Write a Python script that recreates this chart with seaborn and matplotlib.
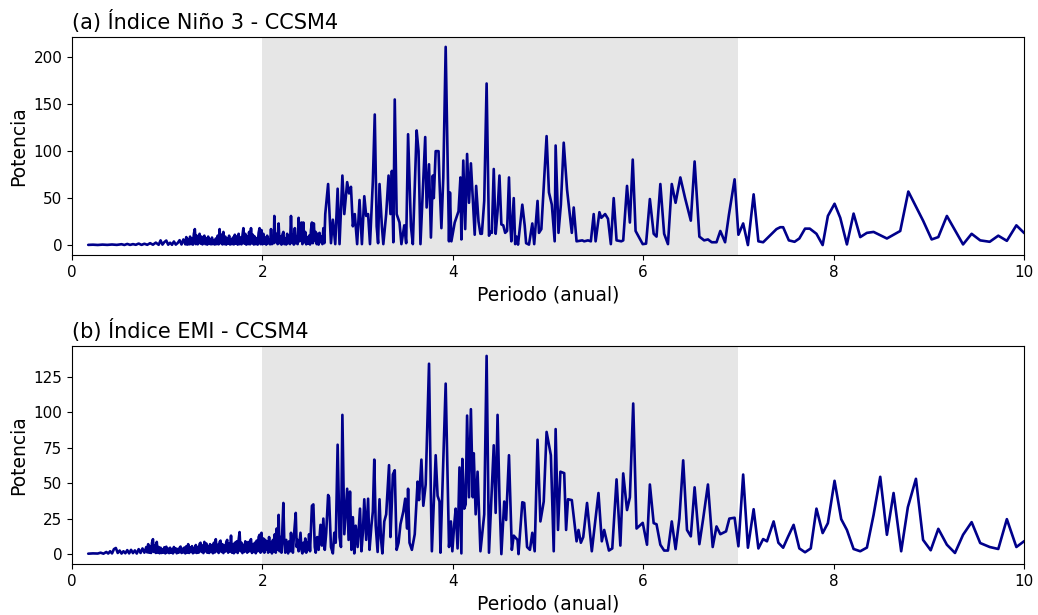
import matplotlib
matplotlib.use("Agg")
import matplotlib.pyplot as plt
import numpy as np
import pandas as pd
import seaborn as sns

# (a) Nino 3: banda densa de periodos cortos
nino3_bajo = [
    (0.17, 0.2), (0.22, 0.4), (0.27, 0.1), (0.32, 0.5), (0.37, 0.2), (0.42, 0.6),
    (0.47, 0.2), (0.52, 0.9), (0.55, 0.1), (0.58, 1.2), (0.61, 0.2), (0.64, 1.0),
    (0.67, 0.3), (0.70, 1.6), (0.73, 0.2), (0.76, 1.4), (0.79, 0.3), (0.82, 2.0),
    (0.85, 0.4), (0.88, 2.6), (0.91, 0.3), (0.93, 5.0), (0.95, 0.5), (0.97, 3.2),
    (0.99, 4.8), (1.01, 0.4), (1.03, 2.5), (1.05, 0.3), (1.07, 3.8), (1.09, 0.5),
    (1.11, 2.2), (1.13, 5.2), (1.15, 0.6), (1.17, 6.0), (1.19, 0.8),
    (1.20, 8.5), (1.21, 0.5), (1.22, 6), (1.23, 0.8), (1.24, 9), (1.25, 1),
    (1.26, 7), (1.27, 0.5), (1.28, 12), (1.29, 17), (1.30, 1), (1.31, 10),
    (1.32, 0.8), (1.33, 8), (1.34, 12), (1.35, 1.5), (1.36, 9), (1.37, 0.7),
    (1.38, 6), (1.39, 10), (1.40, 1), (1.41, 7), (1.42, 0.5), (1.43, 9),
    (1.44, 1.2), (1.45, 6), (1.46, 0.8), (1.47, 8), (1.48, 1), (1.49, 5),
    (1.50, 0.6), (1.51, 7), (1.52, 1), (1.53, 10), (1.54, 0.8), (1.55, 17),
    (1.56, 2), (1.57, 11), (1.58, 0.7), (1.59, 14), (1.60, 1), (1.61, 9),
    (1.62, 0.5), (1.63, 7), (1.64, 1.4), (1.65, 10), (1.66, 0.6), (1.67, 6),
    (1.68, 1), (1.69, 8), (1.70, 0.7), (1.71, 11), (1.72, 1.5), (1.73, 9),
    (1.74, 0.5), (1.75, 12), (1.76, 1), (1.77, 8), (1.78, 0.8), (1.79, 10),
    (1.80, 18), (1.81, 1.5), (1.82, 12), (1.83, 0.5), (1.84, 9), (1.85, 1),
    (1.86, 14), (1.87, 0.8), (1.88, 18), (1.89, 2), (1.90, 11), (1.91, 0.6),
    (1.92, 9), (1.93, 1), (1.94, 7), (1.95, 0.5), (1.96, 13), (1.97, 18),
    (1.98, 1), (1.99, 16),
]

# (a) Nino 3: periodos de 2 a 10 anios
nino3_alto = [
    (2.00, 0.8), (2.01, 12), (2.02, 1.5), (2.03, 8), (2.04, 0.5), (2.05, 10),
    (2.06, 2), (2.07, 6), (2.08, 0.8), (2.09, 17), (2.10, 1), (2.11, 9),
    (2.12, 2), (2.125, 31), (2.135, 3), (2.15, 12), (2.16, 1), (2.17, 23),
    (2.18, 2), (2.19, 9), (2.20, 0.5), (2.21, 11), (2.22, 14), (2.23, 1),
    (2.24, 7), (2.25, 0.6), (2.26, 12), (2.27, 2), (2.28, 8), (2.29, 1),
    (2.30, 31), (2.31, 3), (2.32, 11), (2.33, 0.5), (2.34, 18), (2.35, 2),
    (2.36, 9), (2.37, 1), (2.38, 29), (2.39, 4), (2.40, 12), (2.41, 24),
    (2.42, 1), (2.43, 24), (2.44, 3), (2.45, 14), (2.46, 0.8), (2.47, 8),
    (2.48, 1.5), (2.49, 10), (2.50, 0.6), (2.51, 16), (2.52, 24), (2.53, 2),
    (2.54, 23), (2.55, 5), (2.56, 14), (2.57, 1), (2.58, 12), (2.59, 0.5),
    (2.60, 13), (2.61, 3), (2.62, 9), (2.63, 1), (2.64, 18), (2.65, 2),
    (2.66, 33), (2.69, 65), (2.72, 2), (2.74, 27), (2.765, 1), (2.79, 60),
    (2.81, 1), (2.84, 74), (2.86, 33), (2.89, 67), (2.91, 55), (2.93, 62),
    (2.95, 20), (2.97, 33), (2.995, 1), (3.02, 48), (3.045, 1), (3.07, 52),
    (3.09, 31), (3.11, 33), (3.13, 1), (3.16, 68), (3.18, 139), (3.20, 20),
    (3.215, 2), (3.23, 65), (3.255, 20), (3.27, 1), (3.30, 33), (3.325, 74),
    (3.345, 33), (3.36, 79), (3.375, 3), (3.39, 155), (3.41, 33), (3.44, 24),
    (3.46, 1), (3.49, 21), (3.51, 2), (3.53, 118), (3.56, 20), (3.58, 1),
    (3.62, 122), (3.64, 100), (3.66, 1), (3.68, 47), (3.71, 115), (3.725, 40),
    (3.74, 68), (3.75, 86), (3.77, 8), (3.79, 74), (3.80, 50), (3.82, 100),
    (3.85, 100), (3.86, 68), (3.88, 18), (3.90, 72), (3.925, 211), (3.96, 4),
    (3.97, 56), (3.985, 4), (4.02, 24), (4.06, 36), (4.08, 72), (4.09, 6),
    (4.11, 90), (4.13, 17), (4.15, 97), (4.17, 45), (4.19, 87), (4.21, 50),
    (4.23, 11), (4.245, 63), (4.27, 25), (4.29, 12), (4.305, 12), (4.33, 47),
    (4.355, 172), (4.38, 10), (4.395, 14), (4.41, 13), (4.43, 81), (4.45, 12),
    (4.47, 36), (4.49, 74), (4.51, 22), (4.53, 21), (4.55, 13), (4.57, 15),
    (4.59, 72), (4.605, 20), (4.615, 4), (4.64, 50), (4.655, 1), (4.67, 9),
    (4.685, 0.5), (4.73, 43), (4.755, 21), (4.77, 2), (4.80, 0.5), (4.835, 23),
    (4.855, 1), (4.89, 47), (4.905, 13), (4.93, 17), (4.985, 116), (5.01, 56),
    (5.04, 43), (5.07, 4), (5.08, 106), (5.11, 13), (5.135, 43), (5.165, 109),
    (5.20, 59), (5.25, 13), (5.27, 40), (5.30, 4), (5.36, 5), (5.38, 4),
    (5.42, 5), (5.45, 4), (5.48, 33), (5.50, 4), (5.54, 35), (5.56, 29),
    (5.60, 33), (5.63, 28), (5.66, 1), (5.69, 50), (5.72, 5), (5.77, 4),
    (5.79, 5), (5.83, 63), (5.86, 24), (5.89, 91), (5.92, 15), (5.995, 1),
    (6.03, 1.5), (6.07, 49), (6.11, 12), (6.14, 9), (6.18, 65), (6.22, 12),
    (6.26, 1), (6.30, 65), (6.34, 45), (6.39, 72), (6.44, 50), (6.50, 26),
    (6.54, 89), (6.59, 9), (6.64, 5), (6.68, 6), (6.72, 3), (6.77, 3),
    (6.81, 15), (6.86, 3), (6.90, 32), (6.96, 70), (7.00, 11), (7.05, 23),
    (7.10, 0), (7.16, 54), (7.21, 4), (7.26, 3), (7.33, 10), (7.40, 17),
    (7.44, 19), (7.47, 19), (7.53, 5), (7.59, 3.5), (7.64, 7), (7.70, 17.5),
    (7.75, 17.5), (7.82, 12), (7.885, 0), (7.94, 31), (8.01, 44), (8.07, 29),
    (8.14, 0.7), (8.21, 33.5), (8.28, 8.5), (8.35, 13), (8.42, 14), (8.56, 7),
    (8.70, 15), (8.785, 57), (8.94, 26), (9.03, 6), (9.10, 8.5), (9.19, 31),
    (9.28, 15), (9.36, 0.7), (9.45, 12), (9.54, 5), (9.64, 3.5), (9.73, 10),
    (9.82, 4.5), (9.92, 21), (10.0, 13), (10.08, 8),
]

# (b) EMI: banda densa de periodos cortos
emi_bajo = [
    (0.17, 0.3), (0.22, 0.5), (0.27, 0.4), (0.30, 1.0), (0.33, 0.3), (0.36, 1.5),
    (0.38, 0.4), (0.40, 2.0), (0.42, 0.5), (0.44, 3.5), (0.46, 4.3), (0.48, 0.8),
    (0.50, 2.5), (0.52, 0.4), (0.54, 2.0), (0.56, 0.6), (0.58, 2.8), (0.60, 0.5),
    (0.62, 3.0), (0.64, 0.7), (0.66, 2.6), (0.68, 0.4), (0.70, 3.5), (0.72, 0.8),
    (0.74, 4.0), (0.76, 1.0), (0.78, 5.0), (0.79, 1.2), (0.80, 7.0), (0.81, 1.0),
    (0.82, 5.5), (0.83, 0.8), (0.84, 8.0), (0.85, 10.5), (0.86, 1.5), (0.87, 6.0),
    (0.88, 0.8), (0.89, 8.6), (0.90, 1.0), (0.91, 5.0), (0.92, 0.6), (0.93, 4.5),
    (0.94, 0.8), (0.95, 3.5), (0.96, 1.0), (0.97, 4.8), (0.98, 0.5), (0.99, 5.2),
    (1.00, 1.2), (1.01, 3.8), (1.02, 0.7), (1.03, 4.5), (1.04, 1.0), (1.05, 3.2),
    (1.06, 0.5), (1.07, 5.0), (1.08, 1.5), (1.09, 4.0), (1.10, 0.6), (1.11, 3.6),
    (1.12, 1.0), (1.13, 4.4), (1.14, 5.3), (1.15, 0.8), (1.16, 3.8), (1.17, 1.2),
    (1.18, 4.6), (1.19, 0.5), (1.20, 5.5), (1.21, 1.0), (1.22, 7.0), (1.23, 0.8),
    (1.24, 4.8), (1.25, 1.5), (1.26, 5.6), (1.27, 0.6), (1.28, 4.2), (1.29, 1.2),
    (1.30, 6.4), (1.31, 0.8), (1.32, 5.0), (1.33, 1.0), (1.34, 7.2), (1.35, 8.0),
    (1.36, 1.5), (1.37, 6.0), (1.38, 0.7), (1.39, 8.6), (1.40, 2.0), (1.41, 7.5),
    (1.42, 1.0), (1.43, 5.5), (1.44, 0.8), (1.45, 7.0), (1.46, 1.5), (1.47, 6.2),
    (1.48, 0.6), (1.49, 8.0), (1.50, 1.2), (1.51, 10.5), (1.52, 2.0), (1.53, 6.5),
    (1.54, 0.8), (1.55, 8.5), (1.56, 9.5), (1.57, 1.5), (1.58, 7.0), (1.59, 0.7),
    (1.60, 6.0), (1.61, 1.8), (1.62, 8.5), (1.63, 10.0), (1.64, 1.0), (1.65, 7.5),
    (1.66, 2.0), (1.67, 13.0), (1.68, 1.0), (1.69, 6.5), (1.70, 0.6), (1.71, 8.0),
    (1.72, 1.5), (1.73, 9.0), (1.74, 0.8), (1.75, 10.0), (1.76, 15.5), (1.77, 2.0),
    (1.78, 8.0), (1.79, 0.7), (1.80, 6.5), (1.81, 1.5), (1.82, 9.0), (1.83, 7.0),
    (1.84, 1.0), (1.85, 8.5), (1.86, 2.0), (1.87, 9.0), (1.88, 10.5), (1.89, 0.8),
    (1.90, 7.0), (1.91, 1.5), (1.92, 8.0), (1.93, 0.6), (1.94, 9.5), (1.95, 2.0),
    (1.96, 12.0), (1.97, 13.6), (1.98, 1.0), (1.99, 15.0),
]

# (b) EMI: periodos de 2 a 10 anios
emi_alto = [
    (2.00, 2), (2.01, 11), (2.02, 1), (2.03, 10), (2.04, 3), (2.05, 9),
    (2.06, 1), (2.07, 12), (2.08, 2), (2.09, 8), (2.10, 0.5), (2.11, 10),
    (2.12, 2), (2.13, 14), (2.14, 1), (2.15, 18), (2.16, 3), (2.17, 27.6),
    (2.18, 2), (2.19, 12), (2.20, 1), (2.22, 36), (2.23, 8), (2.24, 1),
    (2.25, 10), (2.27, 0.5), (2.28, 9), (2.29, 2), (2.30, 15), (2.31, 6),
    (2.32, 1), (2.33, 12), (2.35, 29), (2.36, 5), (2.37, 10), (2.38, 2),
    (2.40, 15), (2.41, 3), (2.42, 0.5), (2.43, 8), (2.44, 2), (2.45, 11),
    (2.46, 1), (2.47, 8), (2.48, 3), (2.49, 14), (2.50, 2), (2.52, 34),
    (2.535, 35), (2.55, 5), (2.56, 1), (2.575, 12), (2.59, 3), (2.61, 20.6),
    (2.625, 6), (2.64, 25), (2.655, 3), (2.67, 15), (2.69, 41.6), (2.70, 40),
    (2.72, 5), (2.74, 0.5), (2.755, 15), (2.77, 8), (2.79, 77), (2.81, 12),
    (2.825, 5), (2.84, 98), (2.86, 14), (2.875, 30), (2.89, 46), (2.905, 10),
    (2.92, 44), (2.935, 3), (2.95, 26), (2.965, 0.5), (2.98, 20), (3.00, 5),
    (3.025, 32), (3.04, 2), (3.055, 15), (3.07, 38.6), (3.09, 10), (3.11, 39),
    (3.125, 3), (3.145, 20), (3.16, 30), (3.175, 66.5), (3.19, 20), (3.21, 1.5),
    (3.23, 38.6), (3.245, 11), (3.26, 0.5), (3.28, 23), (3.30, 28), (3.33, 62.6),
    (3.345, 12), (3.36, 37), (3.37, 56), (3.39, 59), (3.41, 3), (3.43, 8),
    (3.45, 21), (3.48, 30), (3.50, 39), (3.52, 18), (3.53, 46), (3.545, 8),
    (3.57, 3), (3.60, 14), (3.63, 51), (3.645, 38), (3.67, 66.5), (3.69, 34),
    (3.715, 49), (3.75, 134), (3.77, 40), (3.78, 2), (3.82, 69.6), (3.84, 41),
    (3.86, 37), (3.87, 1), (3.925, 120), (3.96, 5), (3.98, 23), (3.995, 2),
    (4.015, 21), (4.03, 32), (4.05, 4), (4.07, 61), (4.09, 0.5), (4.10, 67),
    (4.12, 32), (4.135, 35), (4.15, 97.5), (4.17, 40), (4.19, 102), (4.21, 40),
    (4.22, 71), (4.24, 28), (4.26, 58), (4.29, 2), (4.33, 28), (4.355, 139.5),
    (4.38, 1), (4.43, 76.6), (4.45, 29), (4.47, 98), (4.49, 40), (4.51, 0),
    (4.54, 37), (4.56, 24), (4.59, 69.6), (4.62, 3), (4.64, 13), (4.68, 10),
    (4.69, 0), (4.73, 36.5), (4.75, 36), (4.78, 5), (4.81, 3), (4.835, 15),
    (4.86, 2), (4.89, 80.5), (4.92, 23), (4.955, 37), (4.985, 86), (5.03, 69.6),
    (5.06, 2), (5.08, 88), (5.105, 17), (5.13, 58), (5.17, 57), (5.19, 17),
    (5.21, 38.6), (5.25, 38), (5.30, 9), (5.32, 17), (5.345, 8), (5.37, 12),
    (5.41, 36), (5.46, 2), (5.53, 43), (5.565, 9), (5.59, 17), (5.64, 2.5),
    (5.675, 4), (5.72, 52.6), (5.76, 6), (5.79, 56.8), (5.83, 31), (5.86, 40),
    (5.895, 106), (5.93, 18), (5.995, 22), (6.04, 6.6), (6.07, 49), (6.11, 21.8),
    (6.14, 21), (6.18, 6.6), (6.22, 2.5), (6.26, 2.5), (6.30, 23), (6.34, 3.5),
    (6.38, 25), (6.42, 66), (6.46, 17), (6.50, 12.5), (6.54, 47), (6.59, 7),
    (6.63, 25), (6.68, 49), (6.73, 5), (6.77, 19.5), (6.81, 14), (6.87, 16),
    (6.905, 25), (6.96, 25.6), (7.00, 5.5), (7.05, 56), (7.10, 4.5), (7.16, 31.6),
    (7.21, 4), (7.26, 10.6), (7.30, 9), (7.37, 23), (7.42, 8), (7.47, 4.5),
    (7.52, 12), (7.58, 20.6), (7.64, 4), (7.70, 1.3), (7.76, 4), (7.82, 32),
    (7.885, 14.8), (7.94, 21.8), (8.01, 51.6), (8.08, 24.6), (8.14, 17),
    (8.21, 3.6), (8.28, 2), (8.35, 4.6), (8.42, 27.6), (8.49, 54.4), (8.56, 13.6),
    (8.63, 43), (8.71, 2), (8.78, 33), (8.865, 53), (8.94, 10), (9.02, 2.7),
    (9.10, 17.8), (9.19, 6.6), (9.275, 0.8), (9.36, 13.6), (9.45, 22.5),
    (9.54, 7.8), (9.64, 5), (9.73, 3.6), (9.82, 24.6), (9.92, 5), (10.0, 9),
    (10.08, 12),
]

paneles = [
    ("(a) Índice Niño 3 - CCSM4", nino3_bajo + nino3_alto),
    ("(b) Índice EMI - CCSM4", emi_bajo + emi_alto),
]
banda_enso = (2, 7)

sns.set_theme(style="ticks")
plt.rcParams['font.family'] = ['DejaVu Sans']

fig = plt.figure(figsize=(10.38, 6.15), dpi=100)
posiciones = [[0.0694, 0.5854, 0.9171, 0.3545], [0.0694, 0.0829, 0.9171, 0.3545]]

for (titulo, puntos), pos in zip(paneles, posiciones):
    ax = fig.add_axes(pos)
    df = pd.DataFrame(puntos, columns=["periodo", "potencia"])
    ax.axvspan(*banda_enso, color="0.9", zorder=0, lw=0)
    sns.lineplot(data=df, x="periodo", y="potencia", ax=ax, estimator=None,
                 sort=False, color="darkblue", linewidth=1.9)
    ax.set_xlim(0, 10)
    ax.set_xticks(np.arange(0, 11, 2))
    ax.set_title(titulo, loc="left", fontsize=15, color="black")
    ax.set_xlabel("Periodo (anual)", fontsize=13.5, color="black")
    ax.set_ylabel("Potencia", fontsize=13.5, color="black")
    ax.tick_params(labelsize=11, colors="black", length=3.5, width=0.8)
    for sp in ax.spines.values():
        sp.set_color("black")
        sp.set_linewidth(0.8)

fig.savefig("out.png", dpi=100)
